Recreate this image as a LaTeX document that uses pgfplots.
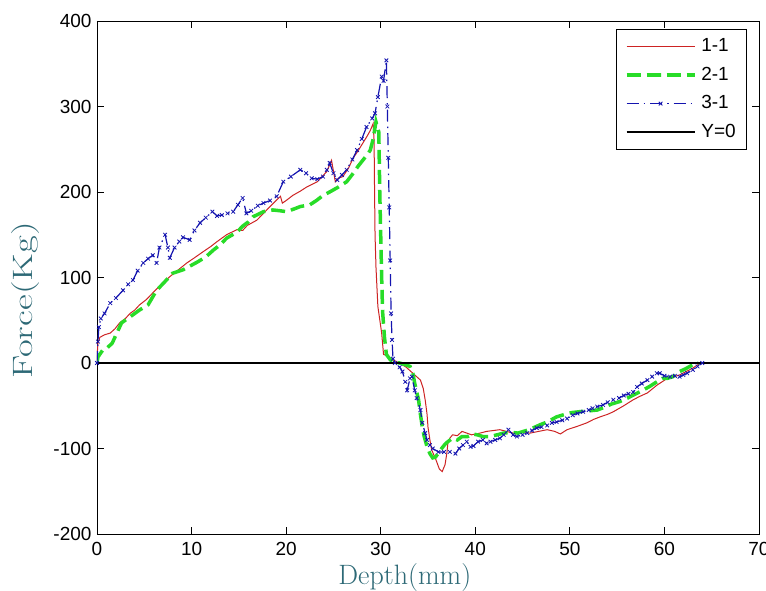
\documentclass[border=0pt]{standalone}
\usepackage{fontspec}
\usepackage{pgfplots}
\pgfplotsset{compat=1.18}
\newfontfamily\arial{Liberation Sans}
\definecolor{labteal}{RGB}{45,105,118}
\definecolor{cred}{RGB}{205,35,35}
\definecolor{cgreen}{RGB}{40,220,40}
\definecolor{cblue}{RGB}{20,20,175}
\begin{document}
\begin{tikzpicture}
\begin{axis}[
    at={(0,0)}, anchor=south west,
    scale only axis,
    width=662pt, height=513pt,
    xmin=0, xmax=70,
    ymin=-200, ymax=400,
    xtick={0,10,...,70},
    ytick={-200,-100,...,400},
    tick align=inside,
    major tick length=7pt,
    tick style={black, line width=0.8pt},
    axis line style={line width=0.9pt},
    /pgf/number format/assume math mode=true,
    ticklabel style={font=\arial\fontsize{19}{19}\selectfont},
    xticklabel style={yshift=-5pt},
    yticklabel style={xshift=-2pt},
    xlabel={Depth(mm)},
    ylabel={\scalebox{1.38}[1]{Force(Kg)}},
    xlabel style={at={(axis description cs:0.465,-0.0994)}, anchor=base,
        font=\fontsize{28}{28}\selectfont, text=labteal},
    ylabel style={at={(axis description cs:-0.098,0.456)}, anchor=base,
        font=\fontsize{28}{28}\selectfont, text=labteal},
    legend cell align=left,
    legend image code/.code={
        \draw[mark repeat=2, mark phase=2, #1]
            plot coordinates {(0pt,0pt) (34pt,0pt) (68pt,0pt)};
    },
    legend style={at={(rel axis cs:0.982,0.984)}, anchor=north east,
        font=\arial\fontsize{19}{19}\selectfont,
        draw=black, line width=0.8pt,
        inner xsep=8pt, inner ysep=5pt, row sep=4.5pt,
        nodes={inner sep=3pt, text height=14pt, text depth=4pt},
        column sep=2pt},
]

% 1-1
\addplot[cred, line width=1pt] coordinates {
(0,0) (0.05,15) (0.1,23) (0.3,30) (0.8,33) (1.4,35) (1.9,40) (2.4,47)
(3.0,52) (3.5,58) (4.0,62) (4.5,68) (5.2,74) (5.9,82) (6.8,92) (7.7,101)
(8.6,109) (9.5,117) (10.3,123) (11.2,130) (12.0,136) (12.7,142) (13.7,150)
(14.8,156) (15.4,155) (15.9,161) (16.9,167) (17.6,175) (18.3,183) (19.4,195)
(19.6,187) (20.0,190) (20.7,196) (21.5,201) (22.2,206) (23.3,212) (24.3,224)
(24.8,237) (25.2,212) (25.5,216) (26.0,218) (26.6,228) (27.1,240) (27.6,248)
(28.1,257) (28.6,266) (28.9,272) (29.2,280) (29.3,260) (29.35,200) (29.4,150)
(29.5,112) (29.7,66) (30.1,35) (30.3,10) (30.6,9) (31.2,4) (32.0,0)
(32.7,-5) (33.4,-12) (34.2,-20) (34.5,-30) (34.7,-43) (34.9,-60) (35.0,-75)
(35.2,-90) (35.4,-102) (35.8,-112) (36.2,-124) (36.5,-127) (36.8,-119)
(37.0,-105) (37.1,-94) (37.3,-88) (37.6,-84) (38.1,-85) (38.6,-80) (39.1,-82)
(39.6,-84) (40.5,-82) (41.2,-80) (42.6,-78) (43.3,-80) (44.0,-82) (45.0,-81)
(45.8,-82) (46.7,-80) (47.6,-78) (48.4,-80) (49.0,-83) (49.7,-78) (50.8,-74)
(51.8,-70) (52.5,-66) (53.2,-63) (54.0,-60) (54.6,-57) (55.7,-50) (56.7,-43)
(57.4,-39) (58.2,-35) (59.2,-26) (60.3,-18) (61.0,-16) (61.6,-14) (62.3,-10)
(63.0,-6) (63.8,0)
};
\addlegendentry{1-1}

% 2-1
\addplot[cgreen, line width=3.5pt, dash pattern=on 14pt off 6pt] coordinates {
(0,0) (0.1,7) (0.6,15) (1.1,18) (1.6,23) (2.1,35) (2.6,47) (3.5,54) (4.5,62)
(5.4,68) (6.3,85) (7.0,93) (8.0,105) (9.1,109) (10.6,118) (11.5,124)
(12.3,132) (13.0,138) (13.7,146) (14.8,153) (15.4,160) (16.0,165) (16.5,171)
(17.6,177) (18.6,179) (19.4,178) (20.0,177) (20.8,180) (21.5,183) (22.5,185)
(23.2,190) (23.9,196) (24.6,200) (25.4,205) (26.4,212) (27.1,222) (27.6,230)
(28.1,237) (28.6,244) (28.9,249) (29.2,262) (29.5,282) (29.8,270) (29.9,200)
(30.0,150) (30.1,100) (30.2,60) (30.4,30) (30.6,10) (31.0,4) (31.3,1)
(32.0,0) (32.6,-2) (33.1,-4) (33.4,-12) (33.6,-24) (34.0,-43) (34.2,-60)
(34.4,-75) (34.6,-86) (34.9,-98) (35.2,-106) (35.5,-111) (35.8,-110)
(36.3,-102) (36.8,-95) (37.1,-92) (37.6,-88) (38.1,-90) (38.6,-86) (39.2,-86)
(39.7,-83) (40.2,-84) (40.8,-86) (41.6,-86) (42.3,-84) (43.0,-82) (43.8,-81)
(44.5,-82) (45.4,-79) (46.1,-76) (46.9,-72) (47.6,-69) (48.6,-63) (49.5,-60)
(50.2,-58) (51.0,-57) (52.0,-56) (52.9,-55) (53.6,-52) (54.4,-48) (55.3,-45)
(56.1,-41) (56.8,-37) (57.7,-32) (58.5,-27) (59.2,-22) (59.8,-18) (60.3,-18)
(60.9,-16) (61.6,-10) (62.2,-7) (63.0,-2) (63.6,0)
};
\addlegendentry{2-1}

% 3-1
\addplot[cblue, line width=1.2pt, dash pattern=on 12pt off 5pt on 1.5pt off 5pt,
    mark=x, mark size=2.6pt, mark options={solid, line width=0.8pt}] coordinates {
(0,0) (0.1,25) (0.2,42) (0.4,52) (0.8,58) (1.4,70) (2.0,76) (2.75,85)
(3.3,92) (3.8,97) (4.3,108) (4.9,117) (5.4,122) (5.9,126) (6.3,117)
(6.6,135) (7.2,150) (7.5,135) (7.7,123) (8.2,135) (8.7,142) (9.1,147)
(9.8,144) (10.3,155) (10.9,164) (11.5,170) (12.2,177) (12.7,172) (13.2,173)
(13.8,175) (14.4,177) (14.9,185) (15.4,193) (15.8,175) (16.3,178) (17.0,184)
(17.6,187) (18.3,190) (19.0,195) (19.7,212) (20.5,218) (21.5,226) (22.1,222)
(22.7,216) (23.3,215) (23.9,218) (24.3,226) (24.6,234) (25.0,222) (25.4,214)
(25.9,220) (26.4,226) (27.0,238) (27.5,249) (28.0,262) (28.5,276) (29.1,286)
(29.4,292) (29.7,311) (30.1,335) (30.3,330) (30.6,354) (30.7,300) (30.8,240)
(30.9,182) (31.0,120) (31.1,58) (31.2,27) (31.3,5) (31.5,0) (32.0,-5)
(32.3,-10) (32.6,-22) (32.8,-32) (33.1,-18) (33.3,-16) (33.6,-32) (33.8,-41)
(34.2,-55) (34.4,-70) (34.7,-82) (34.9,-90) (35.2,-96) (35.5,-100) (36.1,-104)
(36.7,-104) (37.3,-104) (37.9,-106) (38.3,-100) (38.7,-96) (39.1,-92)
(39.5,-98) (39.8,-97) (40.3,-92) (40.8,-90) (41.2,-94) (41.6,-92) (42.1,-90)
(42.6,-88) (43.0,-84) (43.5,-78) (44.0,-84) (44.4,-86) (45.0,-84) (45.5,-82)
(46.0,-79) (46.5,-76) (47.0,-75) (47.6,-73) (48.1,-70) (48.6,-69) (49.2,-67)
(49.7,-65) (50.3,-61) (50.8,-59) (51.4,-57) (52.0,-55) (52.4,-53) (52.9,-51)
(53.5,-49) (54.0,-46) (54.6,-43) (55.2,-41) (55.7,-38) (56.2,-36) (56.7,-34)
(57.1,-28) (57.6,-24) (58.2,-20) (58.7,-16) (59.2,-12) (59.5,-12) (60.0,-15)
(60.6,-16) (61.1,-15) (61.6,-16) (62.0,-14) (62.4,-12) (63.0,-8) (63.5,-4)
(64.0,0)
};
\addlegendentry{3-1}

% Y=0
\addplot[black, line width=1.3pt] coordinates {(0,0) (70,0)};
\addlegendentry{Y=0}
\end{axis}
\pgfresetboundingbox
\useasboundingbox (-97pt,-57pt) rectangle (669pt,534pt);
\end{tikzpicture}
\end{document}
